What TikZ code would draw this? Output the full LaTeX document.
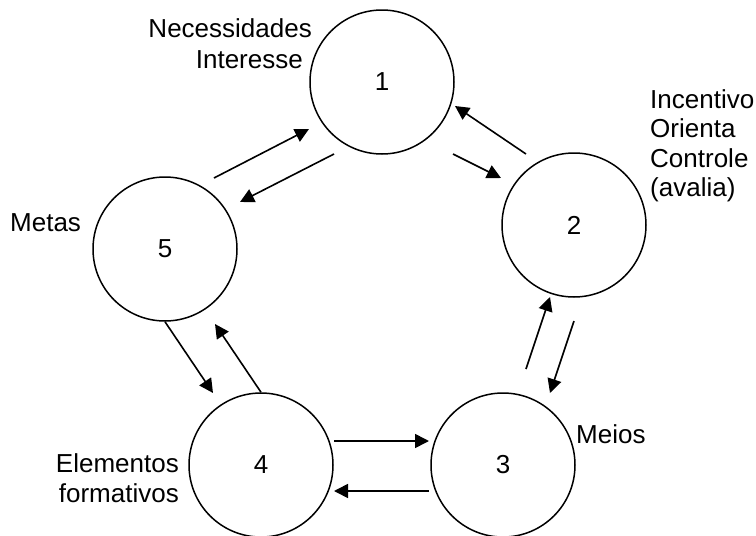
\documentclass[tikz,border=0pt]{standalone}
\usepackage{fontspec}
\setmainfont{Liberation Sans}
\usetikzlibrary{arrows.meta}

\begin{document}
\begin{tikzpicture}[x=1pt,y=-1pt,>={Triangle[length=14pt,width=14pt]},
		every node/.style={font=\fontsize{26}{30}\selectfont,inner sep=0pt},
		stage/.style={draw,circle,line width=1.5pt,minimum size=144pt},
		link/.style={->,line width=1.6pt}]
		\useasboundingbox (0,0) rectangle (756,536);

		% circles
		\node[stage] (n1) at (382,82) {1};
		\node[stage] (n2) at (574,225) {2};
		\node[stage] (n3) at (503,465) {3};
		\node[stage] (n4) at (261,465) {4};
		\node[stage] (n5) at (165,249) {5};

		% labels (base = last line)
		\node[anchor=base east,align=right,font=\fontsize{26}{31}\selectfont] (lNec) at (312,68) {Necessidades\\Interesse\hspace*{9pt}};
		\node[anchor=base west,align=left,font=\fontsize{26}{29.5}\selectfont] (lInc) at (650,196.5) {Incentivo\\Orienta\\Controle\\(avalia)};
		\node[anchor=base west] (lMet) at (10,231) {Metas};
		\node[anchor=base west] (lMei) at (576,443) {Meios};
		\node[anchor=base east,align=right] (lEle) at (179,502) {Elementos\\formativos};

		% free arrow ends
		\coordinate (s51) at (214,178); \coordinate (e51) at (309,129);
		\coordinate (s15) at (334,154); \coordinate (e15) at (240,202);
		\coordinate (s21) at (526,154); \coordinate (e21) at (455,106);
		\coordinate (s12) at (453,154); \coordinate (e12) at (501,178);
		\coordinate (s32) at (526,369); \coordinate (e32) at (550,297);
		\coordinate (s23) at (574,321); \coordinate (e23) at (550,393);
		\coordinate (s43) at (334,441); \coordinate (e43) at (429,441);
		\coordinate (s34) at (429,491); \coordinate (e34) at (334,491);
		\coordinate (e54) at (213,393);
		\coordinate (e45) at (215,324);

		\path[link]
		(s51) edge (e51)
		(s15) edge (e15)
		(s21) edge (e21)
		(s12) edge (e12)
		(s32) edge (e32)
		(s23) edge (e23)
		(s43) edge (e43)
		(s34) edge (e34)
		(n5.south) edge (e54)
		(n4.north) edge (e45)
		;
	\end{tikzpicture}
\end{document}
